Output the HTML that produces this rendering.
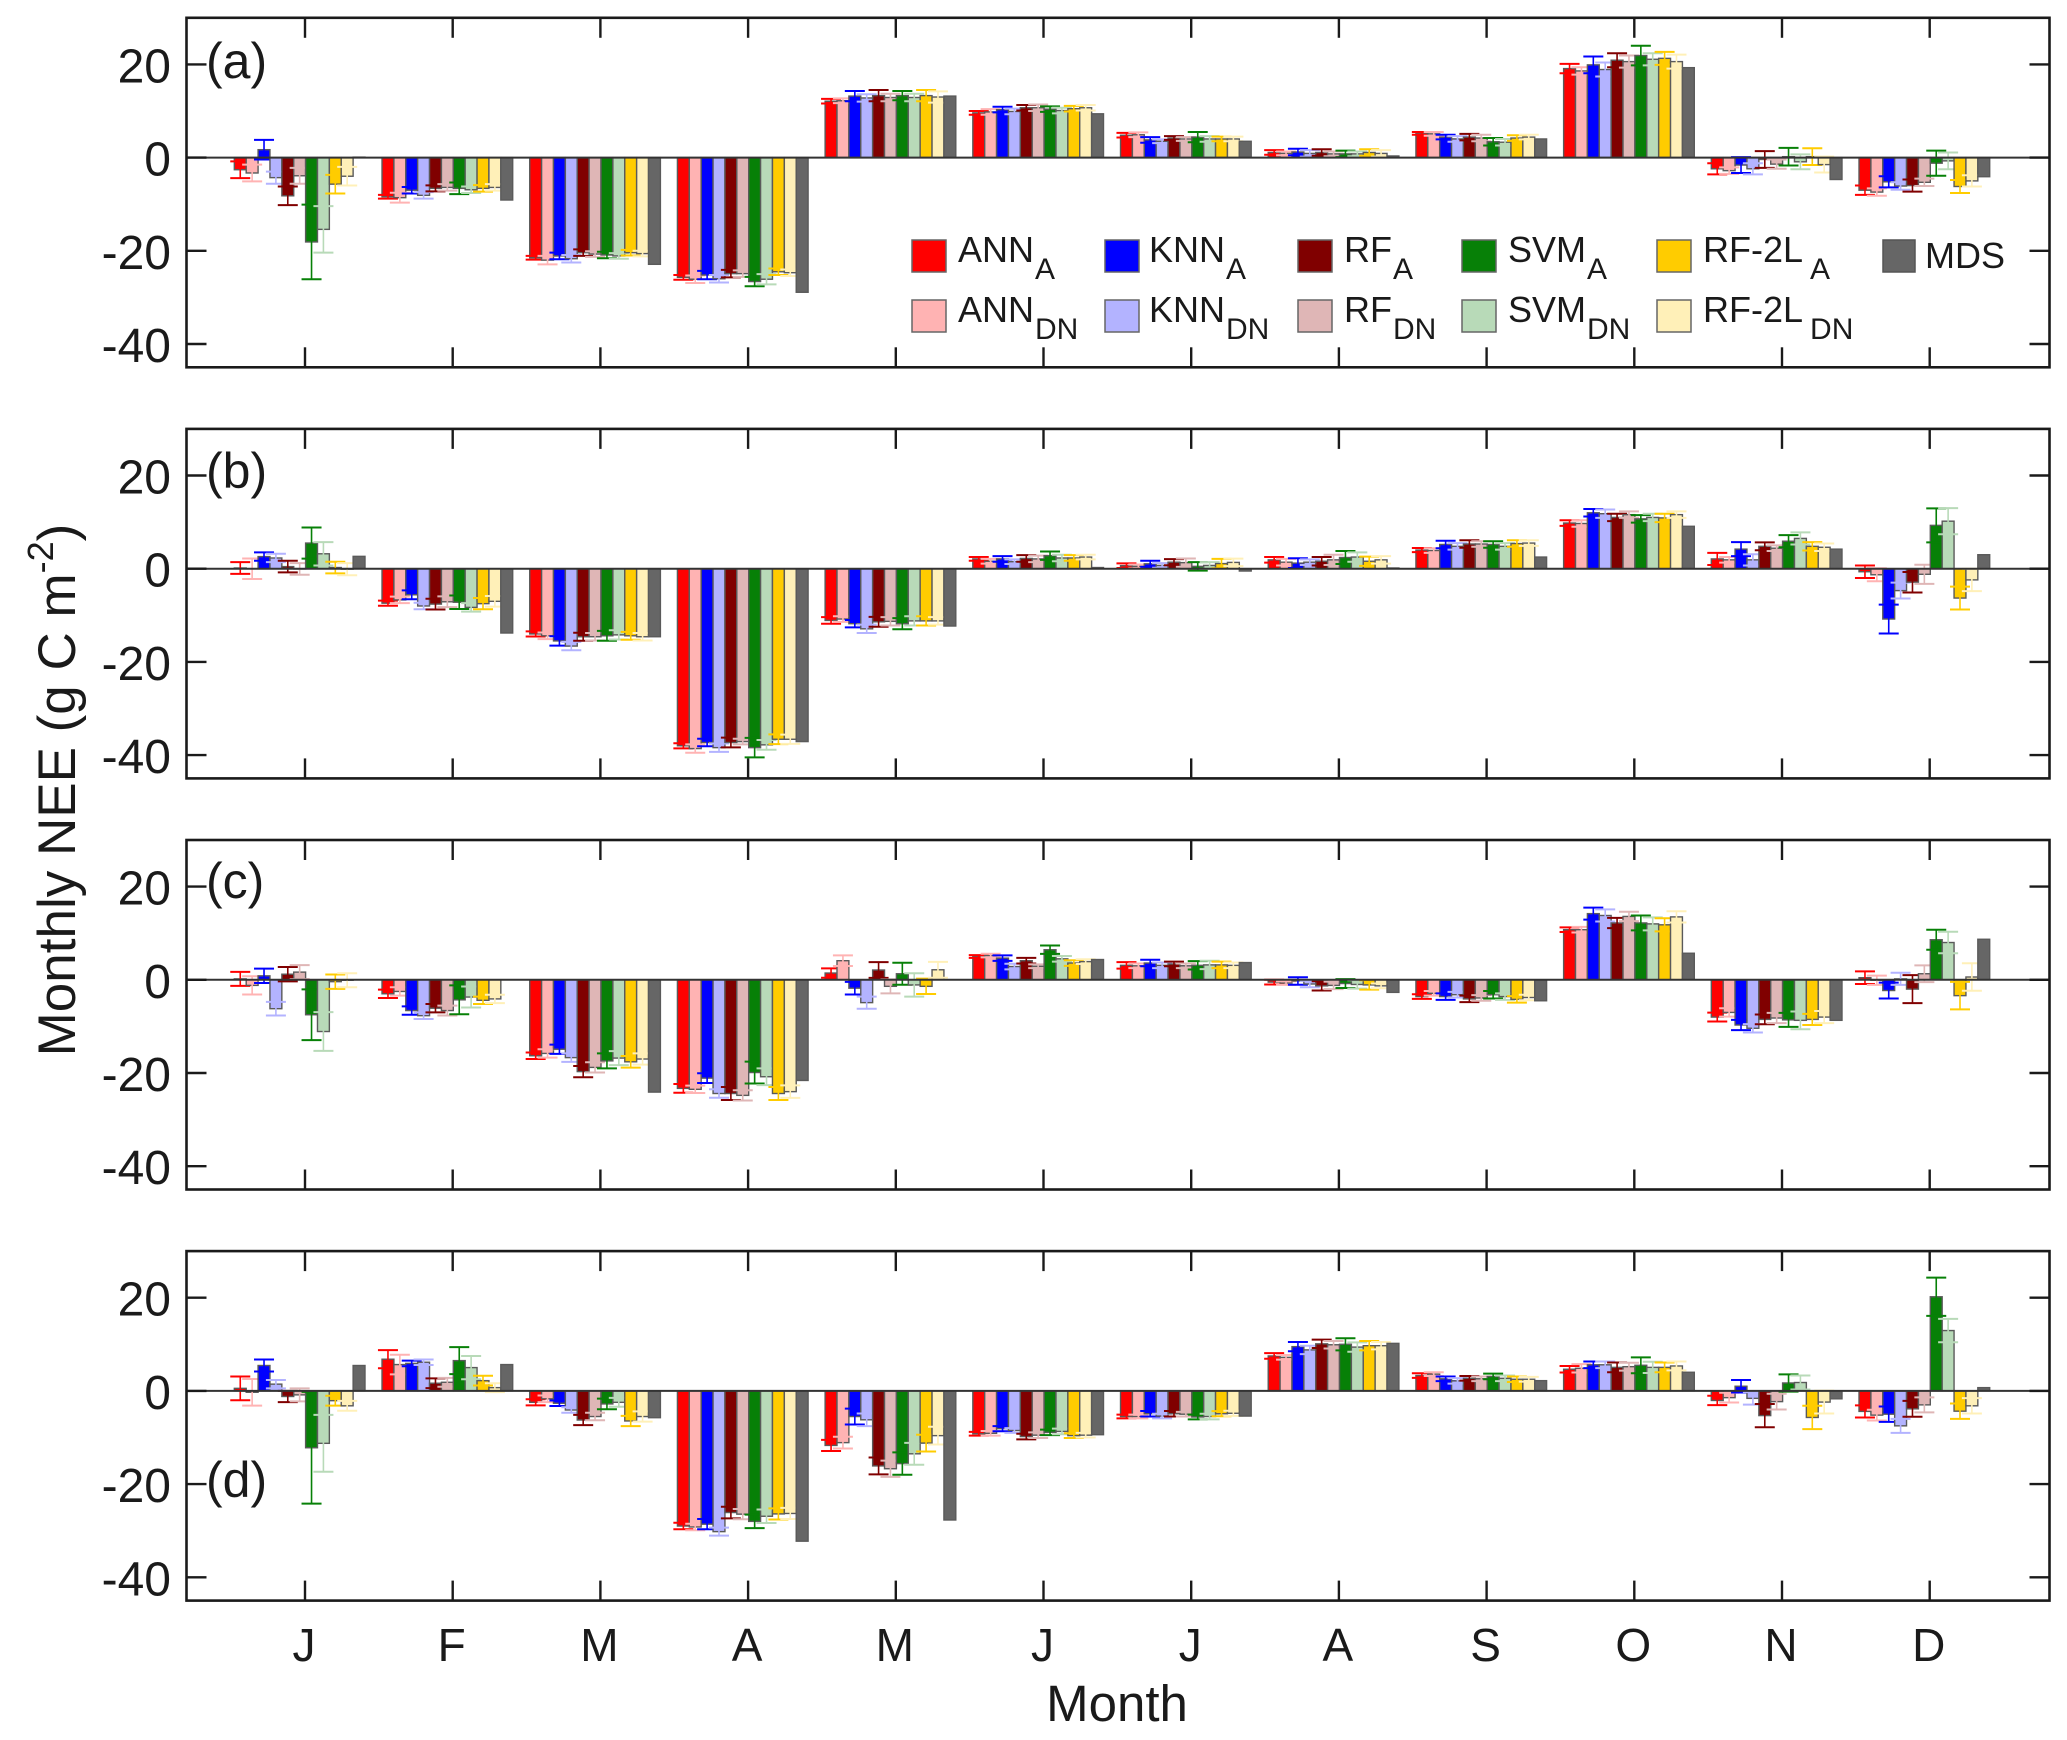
<!DOCTYPE html>
<html lang="en">
<head>
<meta charset="utf-8">
<title>Monthly NEE by gap-filling model</title>
<style>
html,body{margin:0;padding:0;background:#fff;}
svg{display:block;}
text{font-family:"Liberation Sans",Arial,sans-serif;fill:#1a1a1a;}
</style>
</head>
<body>
<svg id="chart" xmlns="http://www.w3.org/2000/svg" width="2067" height="1740" viewBox="0 0 2067 1740">
  <rect x="0" y="0" width="2067" height="1740" fill="#ffffff"/>
  <g id="panels"></g>

  <text x="206" y="78" font-size="50">(a)</text>
  <text x="206" y="488" font-size="50">(b)</text>
  <text x="206" y="898" font-size="50">(c)</text>
  <text x="206" y="1497" font-size="50">(d)</text>

  <text x="1117" y="1721" font-size="51" text-anchor="middle">Month</text>
  <text transform="translate(75 790) rotate(-90)" font-size="53" text-anchor="middle">Monthly NEE (g C m<tspan font-size="36" dy="-22">-2</tspan><tspan dy="22">)</tspan></text>

  <g font-size="36">
    <g><rect x="912" y="240" width="34" height="32" fill="#ff0000" stroke="#666" stroke-width="1.5"/><text x="958" y="262">ANN<tspan font-size="30" dx="1" dy="17">A</tspan></text></g>
    <g><rect x="912" y="300" width="34" height="32" fill="#ffb3b3" stroke="#666" stroke-width="1.5"/><text x="958" y="322">ANN<tspan font-size="30" dx="1" dy="17">DN</tspan></text></g>
    <g><rect x="1105" y="240" width="34" height="32" fill="#0000ff" stroke="#666" stroke-width="1.5"/><text x="1149" y="262">KNN<tspan font-size="30" dx="1" dy="17">A</tspan></text></g>
    <g><rect x="1105" y="300" width="34" height="32" fill="#b3b3ff" stroke="#666" stroke-width="1.5"/><text x="1149" y="322">KNN<tspan font-size="30" dx="1" dy="17">DN</tspan></text></g>
    <g><rect x="1298" y="240" width="34" height="32" fill="#800000" stroke="#666" stroke-width="1.5"/><text x="1344" y="262">RF<tspan font-size="30" dx="1" dy="17">A</tspan></text></g>
    <g><rect x="1298" y="300" width="34" height="32" fill="#dfb6b6" stroke="#666" stroke-width="1.5"/><text x="1344" y="322">RF<tspan font-size="30" dx="1" dy="17">DN</tspan></text></g>
    <g><rect x="1462" y="240" width="34" height="32" fill="#078007" stroke="#666" stroke-width="1.5"/><text x="1508" y="262">SVM<tspan font-size="30" dx="1" dy="17">A</tspan></text></g>
    <g><rect x="1462" y="300" width="34" height="32" fill="#b8dab8" stroke="#666" stroke-width="1.5"/><text x="1508" y="322">SVM<tspan font-size="30" dx="1" dy="17">DN</tspan></text></g>
    <g><rect x="1657" y="240" width="34" height="32" fill="#ffcc00" stroke="#666" stroke-width="1.5"/><text x="1703" y="262">RF-2L<tspan font-size="30" dx="7" dy="17">A</tspan></text></g>
    <g><rect x="1657" y="300" width="34" height="32" fill="#fff0b8" stroke="#666" stroke-width="1.5"/><text x="1703" y="322">RF-2L<tspan font-size="30" dx="7" dy="17">DN</tspan></text></g>
    <g><rect x="1883" y="240" width="32" height="32" fill="#666666" stroke="#555" stroke-width="1.5"/><text x="1925" y="268">MDS</text></g>
  </g>
</svg>

<script>
const months = ["J","F","M","A","M","J","J","A","S","O","N","D"];
const seriesNames = ["ann-a","ann-dn","knn-a","knn-dn","rf-a","rf-dn","svm-a","svm-dn","rf-2l-a","rf-2l-dn","mds"];
const seriesColors = ["#ff0000","#ffb3b3","#0000ff","#b3b3ff","#800000","#dfb6b6","#078007","#b8dab8","#ffcc00","#fff0b8","#666666"];
const yTickValues = [20,0,-20,-40];
const yTickLabels = ["20","0","-20","-40"];

// rows = months; columns = ANN_A, ANN_DN, KNN_A, KNN_DN, RF_A, RF_DN, SVM_A, SVM_DN, RF-2L_A, RF-2L_DN, MDS
const panelAValues = [
  [-2.6,-3.3,1.7,-4.3,-8.2,-3.9,-18.1,-15.4,-5.7,-4,0.1],
  [-8.4,-8.6,-7,-8.1,-6.6,-6.4,-6.6,-6.9,-6.6,-6.4,-9.1],
  [-21.5,-22,-21.1,-21.7,-20.4,-20.7,-20.9,-21.1,-20.4,-20.6,-22.9],
  [-25.7,-26.1,-25.2,-26,-24.9,-24.9,-26.6,-26.1,-24.5,-24.7,-28.9],
  [12.1,12.2,13.2,12.8,13.3,12.9,13.3,12.9,13.3,13,13.2],
  [9.6,9.8,10.3,9.9,10.7,10.7,10.4,10.1,10.5,10.7,9.4],
  [4.8,4.9,3.8,3.5,4.2,4,4.4,4,4,4,3.5],
  [1.1,0.9,1.2,0.9,1.1,0.8,0.8,0.8,1.1,0.9,0.35],
  [5.2,5.1,4.4,4,4.4,4.2,3.4,3.3,4.2,4.4,4],
  [19.1,18.6,19.9,18.9,20.9,20.6,21.9,21.1,21.3,20.6,19.3],
  [-2.4,-2.8,-1.6,-2.4,-0.4,-1.4,0.2,-0.9,0.2,-1.5,-4.7],
  [-7,-7.4,-5.2,-6.1,-6,-5.3,-1.2,-0.7,-6.2,-5,-4.1]
];
const panelAErrors = [
  [1.8,1.8,2.1,1.3,2,1.7,8,5,2,2],
  [0.4,1.05,0.7,0.7,0.65,0.7,1.25,0.7,0.7,0.7],
  [0.4,0.9,0.7,0.8,0.7,0.6,0.7,0.6,0.6,0.6],
  [0.5,0.8,0.9,0.8,0.8,0.7,1,1.1,0.7,0.7],
  [0.5,0.5,1.1,0.8,1.2,0.8,1,0.8,1.2,1.2],
  [0.4,0.6,0.6,0.6,0.6,0.7,0.6,0.6,0.6,0.6],
  [0.5,0.5,0.6,0.4,0.4,0.4,1.1,0.6,0.5,0.5],
  [0.5,0.4,0.7,0.7,0.7,0.5,0.7,0.5,0.7,0.7],
  [0.3,0.4,0.5,0.6,0.7,0.7,0.8,0.7,0.6,0.5],
  [1,0.8,1.8,1.5,1.5,1.3,2.1,1.3,1.4,1.5],
  [1.2,0.7,1.7,1.2,1.8,1,1.9,1.6,1.8,1.7],
  [1,0.8,1.2,0.8,1.3,0.8,2.7,1.8,1.4,1.2]
];

const panelBValues = [
  [0.15,0,2.6,2.3,0.45,-0.05,5.5,3.2,0.25,-0.1,2.65],
  [-7.4,-6.7,-5.6,-8,-7.6,-7.1,-7.2,-8.3,-7.5,-7,-13.8],
  [-14,-14.4,-15.5,-16.6,-14.6,-14.6,-14.4,-14.2,-14.4,-14.6,-14.6],
  [-38,-38.6,-37.3,-38.4,-37.3,-37.1,-38.4,-37.8,-36.6,-36.6,-37.1],
  [-11.1,-10.8,-11.8,-12.9,-11.4,-11.3,-11.8,-11.2,-11.2,-11.2,-12.3],
  [2.1,1.6,2.1,1.5,2.2,2.1,2.8,2.3,2.3,2.5,0.25],
  [0.65,0.5,1.05,0.7,1.4,1.3,0.5,0.7,1.1,1.35,-0.5],
  [1.9,1.4,1.2,1.4,1.6,1.9,2.4,2.5,1.6,1.9,0.15],
  [4,3.9,5.2,4.8,5.3,5.3,5.2,4.8,5.4,5.5,2.5],
  [9.8,9.7,12,11.8,11,11.6,10.7,11,10.9,11.6,9.1],
  [2.1,1.9,4.2,1.9,4.8,4.4,5.9,6.5,4.8,4.6,4.2],
  [-0.65,-1.3,-10.8,-4.7,-2.9,-1.2,9.3,10.2,-6.3,-2.4,3]
];
const panelBErrors = [
  [1.25,2.2,0.9,0.9,1.25,1.25,3.35,2.5,1.25,1.3],
  [0.55,0.7,0.95,0.7,1.15,1.15,1.45,0.9,1.2,1.15],
  [0.55,0.7,1,0.9,0.85,0.8,1.05,1,0.85,0.8],
  [0.55,0.9,0.8,0.9,1.05,0.6,2.1,1.05,1.05,1],
  [0.7,0.6,0.8,0.9,1.05,0.9,1.2,1,1,0.8],
  [0.4,0.5,0.6,0.5,0.7,0.7,0.9,0.7,0.6,0.5],
  [0.5,0.4,0.65,0.5,0.65,0.9,0.9,0.7,1,0.8],
  [0.6,0.7,1.05,0.6,0.9,1.1,1.4,1,1,0.8],
  [0.45,0.5,0.8,0.7,0.8,0.6,0.7,0.7,0.7,0.6],
  [0.6,0.7,0.8,0.9,0.8,0.7,0.8,0.8,0.9,0.7],
  [1.3,0.6,1.5,1.2,0.85,0.6,1.3,1.3,0.9,0.8],
  [1.35,1.4,3.1,1.7,2.2,2.05,3.65,2.8,2.45,2.4]
];

const panelCValues = [
  [0.2,-1.2,0.85,-6.2,1.2,1.65,-7.5,-11.1,-0.4,-0.1,0],
  [-3,-2.5,-6.6,-7.7,-6.1,-6.6,-4.3,-3.7,-4.4,-4.1,0],
  [-16.3,-15.8,-14.9,-16.7,-19.7,-18.8,-17.4,-16.8,-17.6,-17,-24.1],
  [-23.3,-23.5,-21.1,-24.4,-24.4,-24.8,-19.9,-20.8,-24.4,-24,-21.6],
  [1.45,4.1,-1.8,-4.9,2.1,-1.4,1.3,-1.1,-1.4,2.15,0],
  [5,5.2,4.65,2.85,4.1,2.9,6.45,4.5,3.6,3.9,4.35],
  [3.1,3,3.6,3.1,3.4,3,3.1,3.2,3.2,3.1,3.7],
  [-0.5,-0.7,-0.25,-0.9,-1.3,-1.2,-0.8,-1,-1.1,-1.3,-2.7],
  [-3.6,-2.9,-3.6,-3.2,-4.1,-3.9,-3.2,-3.6,-4.2,-3.8,-4.5],
  [10.75,10.75,14.2,13.8,12.2,13.6,12.2,12,11.8,13.5,5.7],
  [-8,-7,-9.7,-10.4,-8.5,-8.2,-8.6,-8.7,-8.5,-8,-8.7],
  [0.45,-0.1,-2.3,0.2,-2,1.3,8.6,8,-3.4,0.6,8.7]
];
const panelCErrors = [
  [1.5,1.95,1.55,1.45,1.55,1.5,5.45,4.15,1.55,1.5],
  [0.9,0.9,0.9,0.7,0.9,1.05,3.1,2.25,0.8,0.9],
  [0.7,0.9,1,0.9,1.2,1.1,1.6,1.5,1.25,1.2],
  [0.95,0.8,1.05,0.9,1.4,1.1,2.35,1.8,1.4,1.35],
  [1,1.15,1.35,1.3,1.7,1.5,2.35,2.5,1.65,1.7],
  [0.3,0.4,0.6,0.6,0.6,0.4,0.9,0.6,0.6,0.5],
  [0.7,0.5,0.7,0.6,0.5,0.5,0.9,0.9,0.7,0.6],
  [0.5,0.4,0.8,0.7,1,0.8,0.95,0.9,1,0.5],
  [0.5,0.5,0.7,0.6,0.7,0.6,0.8,0.7,0.7,0.6],
  [0.5,0.6,1.3,1.3,1.1,1,1.6,1.4,1.4,1.2],
  [0.95,0.9,1.1,0.9,1.05,1.1,1.5,1.9,1.2,1.3],
  [1.35,1,1.7,1.3,3,1.8,2.15,2.3,2.95,2.95]
];

const panelDValues = [
  [0.55,-0.3,5.45,1.45,-1.2,-0.85,-12.2,-11.25,-2.1,-3.2,5.45],
  [6.8,5.65,5.9,6.15,1.65,1.85,6.5,5,2.2,0.7,5.65],
  [-2.45,-1.7,-2.65,-4.1,-6.25,-5.5,-2.8,-2.45,-6.45,-5.5,-5.75],
  [-29,-29.2,-28.6,-30.2,-26.1,-26.45,-28,-26.9,-26.4,-26.3,-32.25],
  [-11.7,-11.1,-5.5,-6.2,-16.1,-16.7,-15.6,-13.5,-11.2,-9.6,-27.7],
  [-9.2,-9.1,-8.1,-8.5,-9.8,-9.5,-8.9,-8.7,-9.6,-9.5,-9.4],
  [-5.5,-5.5,-4.9,-5.4,-4.9,-5,-5.6,-5.5,-4.9,-4.8,-5.4],
  [7.5,7.2,9.5,8.8,10.1,9.9,10,9.4,9.7,9.7,10.2],
  [3.3,3.6,2.6,2.15,2.7,2.6,3.1,2.7,2.5,2.5,2.2],
  [4.65,4.85,5.6,5.6,5.05,5.2,5.5,5.05,5.05,5.35,4],
  [-2.05,-1.45,1,-1.6,-5.3,-2.3,1.7,1.8,-5.7,-2.4,-1.7],
  [-4.4,-5.2,-5,-7.5,-3.85,-3,20.2,12.95,-4.35,-3.2,0.7]
];
const panelDErrors = [
  [2.55,2.85,1.3,0.9,1.2,1.4,12,6.1,1.05,1.05],
  [1.95,2.1,0.6,0.6,1.05,0.95,2.9,2.5,1.05,0.95],
  [0.65,0.7,0.6,0.6,1.1,0.8,1.15,0.95,1.1,1.1],
  [0.7,0.7,1.1,0.85,1.25,1.1,1.45,1.45,1.2,1.2],
  [1.2,1.25,1.7,1.35,1.8,1.75,2.4,2.35,1.8,1.9],
  [0.4,0.5,0.55,0.5,0.6,0.6,0.6,0.6,0.5,0.5],
  [0.4,0.4,0.6,0.5,0.6,0.5,0.5,0.6,0.55,0.55],
  [0.6,0.5,1,0.9,0.9,0.8,1.3,1,1,0.8],
  [0.5,0.4,0.5,0.6,0.5,0.5,0.6,0.6,0.6,0.5],
  [0.7,0.9,0.7,0.7,1.05,0.85,1.7,1.2,1.05,0.95],
  [1,1.05,1.35,1.35,2.5,1.7,1.85,1.5,2.5,2.45],
  [1.3,1.15,1.65,1.5,1.7,1.6,4.1,2.5,1.65,1.65]
];

const panelList = [
  {id:"a", values:panelAValues, errors:panelAErrors},
  {id:"b", values:panelBValues, errors:panelBErrors},
  {id:"c", values:panelCValues, errors:panelCErrors},
  {id:"d", values:panelDValues, errors:panelDErrors}
];

const SVG_NS = "http://www.w3.org/2000/svg";
const plotLeft = 186.5, plotRight = 2049.5, panelHeight = 349.5;
const firstPanelTop = 17.8, panelStep = 411.1;
const yMax = 30, yMin = -45;
const firstTickX = 305, monthStep = 147.7, slotWidth = 11.88;
const capHalf = 10, tickLen = 20;
const axisColor = "#1a1a1a";

function xMonth(monthIndex){ return firstTickX + monthIndex * monthStep; }
function xBar(monthIndex, seriesIndex){ return xMonth(monthIndex) + (seriesIndex - 6) * slotWidth + 0.6; }
function panelTop(panelIndex){ return firstPanelTop + panelIndex * panelStep; }
function yValue(panelIndex, v){ return panelTop(panelIndex) + (yMax - v) / (yMax - yMin) * panelHeight; }

function line(parent, x1, y1, x2, y2, color, width){
  const el = document.createElementNS(SVG_NS, "line");
  el.setAttribute("x1", x1);
  el.setAttribute("y1", y1);
  el.setAttribute("x2", x2);
  el.setAttribute("y2", y2);
  el.setAttribute("stroke", color);
  el.setAttribute("stroke-width", width);
  parent.appendChild(el);
  return el;
}

function drawPanel(panel, p){
  const root = document.getElementById("panels");
  const top = panelTop(p), bottom = top + panelHeight;
  const g = document.createElementNS(SVG_NS, "g");
  
  
  root.appendChild(g);

  // bars and error bars, in series order so later bars overlap earlier caps
  months.forEach(function(month, m){
    panel.values[m].forEach(function(v, s){
      const x = xBar(m, s);
      const y0 = yValue(p, 0), yv = yValue(p, v);
      const bar = document.createElementNS(SVG_NS, "rect");
      
      
      bar.setAttribute("x", x);
      bar.setAttribute("y", Math.min(y0, yv));
      bar.setAttribute("width", slotWidth);
      bar.setAttribute("height", Math.abs(yv - y0));
      bar.setAttribute("fill", seriesColors[s]);
      bar.setAttribute("stroke", "#5a5a5a");
      bar.setAttribute("stroke-width", "1.4");
      g.appendChild(bar);

      if (s < panel.errors[m].length) {
        const e = panel.errors[m][s];
        const cx = x + slotWidth / 2;
        const hi = yValue(p, v + e), lo = yValue(p, v - e);
        const eg = document.createElementNS(SVG_NS, "g");
        
        
        g.appendChild(eg);
        line(eg, cx, hi, cx, lo, seriesColors[s], 1.6);
        line(eg, cx - capHalf, hi, cx + capHalf, hi, seriesColors[s], 2);
        line(eg, cx - capHalf, lo, cx + capHalf, lo, seriesColors[s], 2);
      }
    });
  });

  // zero baseline
  const zero = line(g, plotLeft, yValue(p, 0), plotRight, yValue(p, 0), "#333333", 2);
  
  

  // y ticks and labels
  yTickValues.forEach(function(v, i){
    const y = yValue(p, v);
    const tl = line(g, plotLeft, y, plotLeft + tickLen, y, axisColor, 2.4);
    
    
    const tr = line(g, plotRight - tickLen, y, plotRight, y, axisColor, 2.4);
    
    
    const label = document.createElementNS(SVG_NS, "text");
    
    
    label.setAttribute("x", 171);
    label.setAttribute("y", y + 18);
    label.setAttribute("font-size", "48");
    label.setAttribute("text-anchor", "end");
    label.textContent = yTickLabels[i];
    g.appendChild(label);
  });

  // x ticks
  months.forEach(function(month, m){
    const x = xMonth(m);
    const tt = line(g, x, top, x, top + tickLen, axisColor, 2.4);
    
    
    const tb = line(g, x, bottom - tickLen, x, bottom, axisColor, 2.4);
    
    
    if (p === panelList.length - 1) {
      const label = document.createElementNS(SVG_NS, "text");
      
      
      label.setAttribute("x", x - 1);
      label.setAttribute("y", 1661);
      label.setAttribute("font-size", "46");
      label.setAttribute("text-anchor", "middle");
      label.textContent = month;
      g.appendChild(label);
    }
  });

  // axes box
  const box = document.createElementNS(SVG_NS, "rect");
  
  
  box.setAttribute("x", plotLeft);
  box.setAttribute("y", top);
  box.setAttribute("width", plotRight - plotLeft);
  box.setAttribute("height", panelHeight);
  box.setAttribute("fill", "none");
  box.setAttribute("stroke", axisColor);
  box.setAttribute("stroke-width", "2.6");
  g.appendChild(box);
}

panelList.forEach(drawPanel);
</script>
</body>
</html>
